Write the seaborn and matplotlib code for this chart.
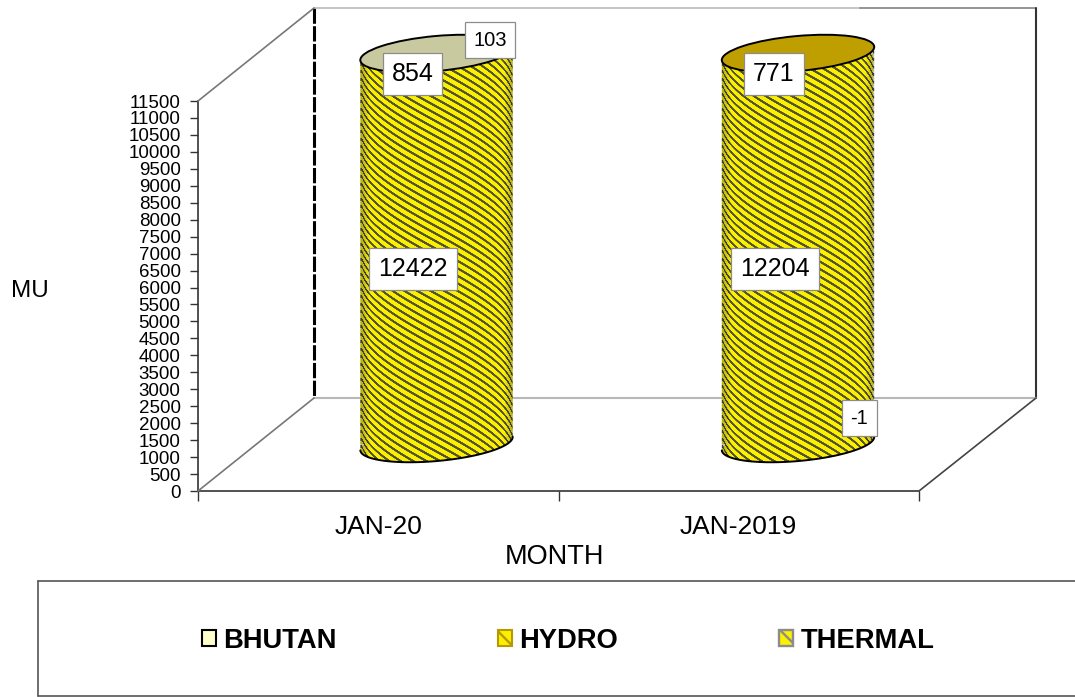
import numpy as np
import matplotlib
matplotlib.use("Agg")
import matplotlib.pyplot as plt
import pandas as pd
import seaborn as sns
from matplotlib.lines import Line2D
from matplotlib.patches import Ellipse, Patch
from matplotlib.path import Path
from matplotlib.transforms import IdentityTransform

months = ["JAN-20", "JAN-2019"]
thermal = [12422, 12204]
hydro = [854, 771]
bhutan = [103, -1]
y_ticks = list(range(0, 11501, 500))
legend_names = ["BHUTAN", "HYDRO", "THERMAL"]

W, H = 1075, 697
YELLOW = "#fbf000"
STRIPE = (0.24, 0.24, 0.20)
GOLD = "#bf9f00"
KHAKI = "#c9c9a0"

sns.set_style("ticks")
plt.rcParams["font.family"] = ["Liberation Sans", "DejaVu Sans"]
plt.rcParams["text.color"] = "black"
plt.rcParams["axes.labelcolor"] = "black"
plt.rcParams["xtick.labelcolor"] = "black"
plt.rcParams["ytick.labelcolor"] = "black"
plt.rcParams["hatch.linewidth"] = 1.7


def fx(px):
    return px / W


def fy(py):
    return 1 - py / H


def box(left, top, right, bottom):
    return [fx(left), fy(bottom), (right - left) / W, (bottom - top) / H]


def wall(x0, y0, x1, y1, **kw):
    fig.add_artist(Line2D([fx(x0), fx(x1)], [fy(y0), fy(y1)], **kw))


def tag(px, py, value, size, pad):
    fig.text(fx(px), fy(py), str(value), fontsize=size, color="black", ha="center", va="center",
             bbox=dict(boxstyle=f"square,pad={pad}", fc="white", ec="#8c8c8c", lw=0.9), zorder=10)


fig = plt.figure(figsize=(W / 100, H / 100), dpi=100)

# front plane of the 3D box, holds the real axis
ax = fig.add_axes(box(198, 101, 919, 491))
ax.set_xlim(-0.5, 1.5)
ax.set_ylim(0, 11500)
ax.set_yticks(y_ticks)
ax.tick_params(axis="y", labelsize=13.5, length=6, width=1, color="#333333", pad=6.5)
ax.set_xticks([-0.5, 0.5, 1.5], ["", "", ""])
ax.set_xticks([0, 1], months, minor=True)
ax.tick_params(axis="x", which="major", length=7, width=1, color="#333333")
ax.tick_params(axis="x", which="minor", length=0, labelsize=19, pad=17.5)
ax.set_xlabel("MONTH", fontsize=19.5, va="center")
ax.xaxis.set_label_coords((554.5 - 198) / 721, (491 - 557) / 390)
ax.set_ylabel("MU", fontsize=17.5, rotation=0, va="center", ha="center")
ax.yaxis.set_label_coords((30 - 198) / 721, (491 - 291) / 390)
ax.spines["top"].set_visible(False)
ax.spines["right"].set_visible(False)
for s in ["left", "bottom"]:
    ax.spines[s].set_color("#333333")
    ax.spines[s].set_linewidth(1.2)

# walls and floor
wall(314, 8, 314, 398, color="black", lw=2.2, ls=(0, (5, 0.8)))
wall(314, 8, 860, 8, color="#b5b5b5", lw=1.1)
wall(860, 8, 1035, 8, color="#777777", lw=1.1)
wall(1036, 8, 1036, 398, color="#333333", lw=1.5)
wall(314, 398, 1036, 398, color="#b8b8b8", lw=1.5)
wall(198, 101, 314, 8, color="#777777", lw=1.2)
wall(198, 491, 314, 398, color="#777777", lw=1.2)
wall(919, 491, 1036, 398, color="#444444", lw=1.2)

# cylinders stand half way back in the box
cyl = fig.add_axes(box(256, 53.5, 977, 443.5), zorder=2)
cyl.patch.set_alpha(0)
stack = pd.DataFrame({"month": months, "thermal": thermal, "hydro": hydro, "bhutan": bhutan})

bar_w = 0.424
tilt = 5.2
base_y, top_y = 443.5, 53.5
centres = [436.5, 798]
rx, ry = 76.5, 17.5


def rim(cx, cy, start, stop, n=60):
    t = np.radians(np.linspace(start, stop, n))
    a = np.radians(tilt)
    x = cx + rx * np.cos(t) * np.cos(a) - ry * np.sin(t) * np.sin(a)
    y = (H - cy) + rx * np.cos(t) * np.sin(a) + ry * np.sin(t) * np.cos(a)
    return np.column_stack([x, y])


bottoms = np.zeros(2)
for col in ["thermal", "hydro", "bhutan"]:
    sns.barplot(data=stack, x="month", y=col, bottom=bottoms, width=bar_w, color=YELLOW, saturation=1,
                linewidth=0, ax=cyl, order=months)
    bottoms = bottoms + stack[col].to_numpy()
cyl.set_xlim(-0.5, 1.5)
cyl.set_ylim(0, 11500)
cyl.axis("off")

# silhouette: lower half of the base rim plus upper half of the top rim
sil = []
for cx in centres:
    pts = np.vstack([rim(cx, base_y, 180, 360), rim(cx, top_y, 0, 180)])
    sil.append(Path(np.vstack([pts, pts[0]]), closed=True))
for bar in list(cyl.patches):
    k = int(round(bar.get_x() + bar.get_width() / 2))
    bar.set_clip_path(sil[k], IdentityTransform())

# base and top faces
for k, cx in enumerate(centres):
    cyl.add_patch(Ellipse((cx, H - base_y), 2 * rx, 2 * ry, angle=tilt, transform=IdentityTransform(), fc=YELLOW,
                          lw=0, zorder=1, clip_on=False))
    top_col = KHAKI if bhutan[k] > 0 else GOLD
    cyl.add_patch(Ellipse((cx, H - top_y), 2 * rx, 2 * ry, angle=tilt, transform=IdentityTransform(), fc=top_col,
                          ec="black", lw=1.4, zorder=6, clip_on=False))
    line = rim(cx, base_y, 180, 360)
    cyl.plot(line[:, 0], line[:, 1], color="black", lw=1.4, transform=IdentityTransform(), zorder=5, clip_on=False)

# wrapped stripes and dark edges on the cylinder side
top_px, bot_px = 30, 470
for k, cx in enumerate(centres):
    xx, yy = np.meshgrid(np.arange(-77, 78) + 0.5, np.arange(top_px, bot_px) + 0.5)
    u = np.clip(xx / rx, -0.98, 0.98)
    phase = (yy - 0.55 * rx * np.arcsin(u)) / 7.5
    dark = np.clip(2.4 * np.sin(2 * np.pi * phase) - 0.5, 0, 1) * 0.88
    side = np.clip(np.abs(u) - 0.88, 0, 1) * 3.5
    tex = np.zeros(xx.shape + (4,))
    tex[..., 0], tex[..., 1], tex[..., 2] = STRIPE
    tex[..., 3] = np.clip(dark + side, 0, 1)
    x0 = (cx - 77 - 256) / 721 * 2 - 0.5
    x1 = (cx + 78 - 256) / 721 * 2 - 0.5
    y0 = (base_y - bot_px) / 390 * 11500
    y1 = (base_y - top_px) / 390 * 11500
    im = cyl.imshow(tex, extent=(x0, x1, y0, y1), aspect="auto", zorder=4, interpolation="bilinear")
    im.set_clip_box(fig.bbox)
    im.set_clip_path(sil[k], IdentityTransform())
cyl.set_xlim(-0.5, 1.5)
cyl.set_ylim(0, 11500)

# value labels
tag(412.5, 74, hydro[0], 18, 0.36)
tag(774, 74, hydro[1], 18, 0.36)
tag(490, 40, bhutan[0], 14.5, 0.42)
tag(859.5, 418, bhutan[1], 14.5, 0.42)
tag(413, 269, thermal[0], 18, 0.36)
tag(775, 269, thermal[1], 18, 0.36)

# legend box
for seg in [(38, 581, 1075, 581), (38, 581, 38, 696), (38, 696, 1075, 696)]:
    wall(*seg, color="#555555", lw=1.2)
handles = [
    Patch(fc="#ffffcc", ec="black", lw=1.5),
    Patch(fc=YELLOW, ec="#b89a00", lw=1.5, hatch="\\\\"),
    Patch(fc=YELLOW, ec="#8c8c8c", lw=1.7, hatch="\\\\"),
]
fig.legend(handles, legend_names, ncol=3, frameon=False, loc="center left", bbox_to_anchor=(fx(202), fy(641)),
           prop={"weight": "bold", "size": 19.7}, handlelength=0.5, handleheight=0.5, handletextpad=0.27,
           columnspacing=5.9, borderpad=0, borderaxespad=0, labelcolor="black")

fig.savefig("out.png", dpi=100)
